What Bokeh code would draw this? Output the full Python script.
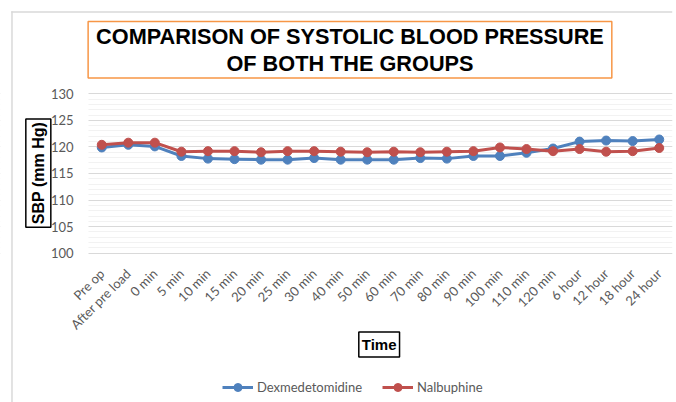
import math
from bokeh.plotting import figure
from bokeh.models import FixedTicker, Legend, LegendItem, Label, Range1d, BoxAnnotation
from bokeh.embed import file_html
from bokeh.resources import INLINE

categories = ["Pre op", "After pre load", "0 min", "5 min", "10 min", "15 min", "20 min",
              "25 min", "30 min", "40 min", "50 min", "60 min", "70 min", "80 min", "90 min",
              "100 min", "110 min", "120 min", "6 hour", "12 hour", "18 hour", "24 hour"]
dexmedetomidine = [119.9, 120.4, 120.1, 118.3, 117.8, 117.7, 117.6, 117.6, 117.9, 117.6, 117.6,
                   117.6, 117.9, 117.8, 118.3, 118.3, 118.9, 119.7, 121.0, 121.2, 121.1, 121.4]
nalbuphine = [120.4, 120.8, 120.8, 119.1, 119.2, 119.2, 119.0, 119.2, 119.2, 119.1, 119.0,
              119.1, 119.0, 119.1, 119.2, 119.9, 119.6, 119.2, 119.6, 119.1, 119.2, 119.8]
y_ticks = [100, 105, 110, 115, 120, 125, 130]
y_minor_ticks = list(range(100, 131))

BLUE = "#4f81bd"
RED = "#c0504d"
GREY = "#595959"
BORDER = "#d9d9d9"

xs = list(range(len(categories)))
n = len(categories)

# One frame covers the whole picture; the axes are pinned to the value area (x >= -0.5, 100..130)
p = figure(width=676, height=402, output_backend="svg", toolbar_location=None, title=None,
           x_range=Range1d(-3.815, n - 0.5), y_range=Range1d(71.90, 147.56),
           min_border_left=0, min_border_right=4, min_border_top=0, min_border_bottom=0)
p.outline_line_color = None
p.background_fill_color = "white"
p.border_fill_color = "white"

# grid lines
p.xgrid.grid_line_color = None
p.ygrid.grid_line_color = "#d9d9d9"
p.ygrid.grid_line_width = 1
p.ygrid.minor_grid_line_color = "#f2f2f2"
p.ygrid.minor_grid_line_width = 1
# keep the grid to the right of the value axis
p.add_layout(BoxAnnotation(right=-0.5, fill_color="white", fill_alpha=1.0,
                           line_color=None, level="underlay"))
# light chart-area border: top edge and left edge
p.add_layout(BoxAnnotation(left=-3.410, bottom=145.26, top=145.54,
                           fill_color=BORDER, fill_alpha=1.0, line_color=None, level="underlay"))
p.add_layout(BoxAnnotation(left=-3.410, right=-3.354, top=145.54,
                           fill_color=BORDER, fill_alpha=1.0, line_color=None, level="underlay"))

r1 = p.line(xs, dexmedetomidine, line_color=BLUE, line_width=3)
s1 = p.scatter(xs, dexmedetomidine, size=9, fill_color=BLUE, line_color=BLUE)
r2 = p.line(xs, nalbuphine, line_color=RED, line_width=3)
s2 = p.scatter(xs, nalbuphine, size=9, fill_color=RED, line_color=RED)

# x axis drawn at y = 100
p.xaxis.fixed_location = 100
p.xaxis.ticker = FixedTicker(ticks=xs)
p.xaxis.major_label_overrides = {i: c for i, c in enumerate(categories)}
p.xaxis.major_label_orientation = math.pi / 4
p.xaxis.axis_line_color = None
p.xaxis.major_tick_line_color = None
p.xaxis.minor_tick_line_color = None
p.xaxis.major_label_text_font = "Lato"
p.xaxis.major_label_text_font_size = "13px"
p.xaxis.major_label_text_color = GREY
p.xaxis.major_label_standoff = 12

# y axis drawn at x = -0.5
p.yaxis.fixed_location = -0.5
p.yaxis.ticker = FixedTicker(ticks=y_ticks, minor_ticks=y_minor_ticks)
p.yaxis.axis_line_color = None
p.yaxis.major_tick_line_color = None
p.yaxis.minor_tick_line_color = None
p.yaxis.major_label_text_font = "Lato"
p.yaxis.major_label_text_font_size = "13px"
p.yaxis.major_label_text_color = GREY
p.yaxis.major_label_standoff = 9

# chart title in an orange box
title = Label(x=9.35, y=138.28,
              text="COMPARISON OF SYSTOLIC BLOOD PRESSURE\nOF BOTH THE GROUPS",
              text_align="center", text_baseline="middle", text_font="Liberation Sans",
              text_font_style="bold", text_font_size="21.7px", text_color="black",
              text_line_height=1.1,
              border_line_color="#f79646", border_line_width=1.5,
              background_fill_color="white", padding=(8, 2))
p.add_layout(title)

# y axis title in a black box
ytitle = Label(x=-2.39, y=115.09, text="SBP (mm Hg)", angle=math.pi / 2,
               text_align="center", text_baseline="middle", text_font="Liberation Sans",
               text_font_style="bold", text_font_size="16px", text_color="black",
               border_line_color="black", border_line_width=1.5,
               background_fill_color="white", padding=(3, 4))
p.add_layout(ytitle)

# x axis title in a black box
xtitle = Label(x=10.45, y=82.81, text="Time",
               text_align="center", text_baseline="middle", text_font="Liberation Sans",
               text_font_style="bold", text_font_size="15px", text_color="black",
               border_line_color="black", border_line_width=1.5,
               background_fill_color="white", padding=(3, 4))
p.add_layout(xtitle)

legend = Legend(items=[LegendItem(label="Dexmedetomidine", renderers=[r1, s1]),
                       LegendItem(label="Nalbuphine", renderers=[r2, s2])],
                orientation="horizontal", location=(222, 5),
                label_text_font="Lato", label_text_font_size="13px", label_text_color=GREY,
                border_line_color=None, background_fill_alpha=0,
                glyph_width=31, label_standoff=4, spacing=20, padding=0, margin=0)
p.add_layout(legend)

open("out.html", "w").write(file_html(p, INLINE))
